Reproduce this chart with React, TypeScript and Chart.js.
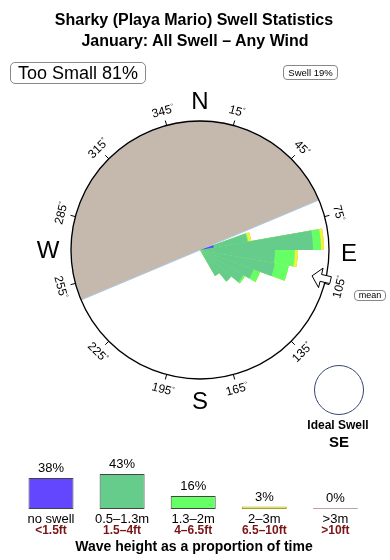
import React, { useEffect, useRef } from "react";
import { Chart, registerables } from "chart.js";

Chart.register(...registerables);

// ---------------- Data ----------------
// swell rose: 10° direction bins (start bearing) that hold swell
const binStarts = [70, 80, 90, 100, 110, 120, 130, 140];
// radial length of each height class per bin (scale max = 100)
const noSwellRose = [10.9, 0, 0, 0, 0, 0, 0, 0];
const m05to13Rose = [26.4, 87.6, 58.1, 58.9, 44.2, 38.8, 31.8, 23.3];
const m13to2Rose = [0.8, 6.2, 15.5, 10.9, 5.4, 1.5, 0, 0];
const m2to3Rose = [2.3, 2.3, 2.3, 0, 0, 0, 0, 0];
const over3Rose = [0, 0, 0, 0, 0, 0, 0, 0];

// land shadow sector (bearings, clockwise from -> to)
const landFromBearing = 247.2;
const landToBearing = 67.2;

const meanDirection = 103;
const tooSmallPct = 81;
const swellPct = 19;
const idealSwell = "SE";

const degreeTicks = [15, 45, 75, 105, 135, 165, 195, 225, 255, 285, 315, 345];

// legend (wave height as a proportion of time)
const legendMetric = ["no swell", "0.5\u20131.3m", "1.3\u20132m", "2\u20133m", ">3m"];
const legendFeet = ["<1.5ft", "1.5\u20134ft", "4\u20136.5ft", "6.5\u201310ft", ">10ft"];
const legendPct = [38, 43, 16, 3, 0];

// ---------------- Styles ----------------
const FONT = '"Liberation Sans", Arial, Helvetica, sans-serif';
const roseColors = ["#6347ff", "#66cc8c", "#66ff66", "#f2f236", "#d8a0a0"];
const legendBorders = ["#444", "#444", "#444", "#a3a32c", "#c0a0a0"];
const roseLabels = legendMetric;
const ROSE_PAD = { left: 71, top: 121, right: 61, bottom: 41 };
const CX = 200;
const CY = 250;
const LABEL_R = 144;

const directionBins = Array.from({ length: 36 }, (_, i) => i * 10);
const expand = (vals: number[]) =>
  directionBins.map((b) => {
    const i = binStarts.indexOf(b);
    return i >= 0 ? vals[i] : 0;
  });

function Txt(props: {
  x: number;
  y: number;
  size: number;
  bold?: boolean;
  color?: string;
  rotate?: number;
  children: React.ReactNode;
}) {
  const { x, y, size, bold, color, rotate, children } = props;
  return (
    <div
      style={{
        position: "absolute",
        left: x,
        top: y,
        transform: `translate(-50%,-50%)${rotate ? ` rotate(${rotate}deg)` : ""}`,
        fontSize: size,
        fontWeight: bold ? "bold" : "normal",
        color: color || "#000",
        lineHeight: 1,
        whiteSpace: "nowrap",
      }}
    >
      {children}
    </div>
  );
}

export default function App() {
  const backRef = useRef<HTMLCanvasElement>(null);
  const frontRef = useRef<HTMLCanvasElement>(null);
  const barRef = useRef<HTMLCanvasElement>(null);

  useEffect(() => {
    const baseScale = (startAngle: number, grid: any) => ({
      r: {
        type: "radialLinear",
        min: 0,
        max: 100,
        startAngle,
        ticks: { display: false, stepSize: 100 },
        pointLabels: { display: false },
        angleLines: { display: false },
        grid,
      },
    });
    const common = {
      responsive: false,
      animation: false,
      events: [],
      layout: { padding: ROSE_PAD },
      plugins: { legend: { display: false }, tooltip: { enabled: false } },
    };

    const landSpan = (landToBearing - landFromBearing + 360) % 360;
    const back = new Chart(backRef.current!, {
      type: "polarArea",
      data: {
        labels: ["land", "open"],
        datasets: [
          {
            data: [100, 0],
            backgroundColor: ["#c5b9ad", "rgba(0,0,0,0)"],
            borderColor: "#a9c9e6",
            borderWidth: [1, 0],
            angle: (c: any) => (c.dataIndex === 0 ? landSpan : 360 - landSpan),
          } as any,
        ],
      },
      options: {
        ...common,
        scales: baseScale(landFromBearing, { display: false }),
      } as any,
    });

    // stacked (cumulative) rose
    const classes = [noSwellRose, m05to13Rose, m13to2Rose, m2to3Rose, over3Rose].map(expand);
    const cum: number[][] = [];
    classes.forEach((vals, k) => {
      cum.push(vals.map((v, i) => v + (k > 0 ? cum[k - 1][i] : 0)));
    });

    const decor = {
      id: "roseDecor",
      afterDraw(chart: any) {
        const s = chart.scales.r;
        const cx = s.xCenter;
        const cy = s.yCenter;
        const R = s.drawingArea;
        const ctx = chart.ctx;
        ctx.save();
        ctx.strokeStyle = "#000";
        ctx.lineWidth = 1;
        degreeTicks.forEach((d) => {
          const a = (d * Math.PI) / 180;
          const ux = Math.sin(a);
          const uy = -Math.cos(a);
          ctx.beginPath();
          ctx.moveTo(cx + ux * R, cy + uy * R);
          ctx.lineTo(cx + ux * (R + 5), cy + uy * (R + 5));
          ctx.stroke();
        });
        // mean direction arrow (points to centre)
        const a = (meanDirection * Math.PI) / 180;
        const ux = Math.sin(a);
        const uy = -Math.cos(a);
        const px = -uy;
        const py = ux;
        const pt = (r: number, w: number) => [cx + ux * r + px * w, cy + uy * r + py * w];
        const pts = [
          pt(R - 14, 0),
          pt(R - 5, 10),
          pt(R - 5, 3.5),
          pt(R + 5, 3.5),
          pt(R + 5, -3.5),
          pt(R - 5, -3.5),
          pt(R - 5, -10),
        ];
        ctx.beginPath();
        pts.forEach((p, i) => (i === 0 ? ctx.moveTo(p[0], p[1]) : ctx.lineTo(p[0], p[1])));
        ctx.closePath();
        ctx.fillStyle = "#fff";
        ctx.fill();
        ctx.stroke();
        ctx.restore();
      },
    };

    const front = new Chart(frontRef.current!, {
      type: "polarArea",
      data: {
        labels: directionBins.map((b) => `${b}°`),
        datasets: cum.map((vals, k) => ({
          label: roseLabels[k],
          data: vals,
          backgroundColor: roseColors[k],
          borderWidth: 0,
        })),
      },
      options: {
        ...common,
        scales: baseScale(0, { display: true, circular: true, color: "#000", lineWidth: 1.3, z: 1 }),
      } as any,
      plugins: [decor],
    });

    const pctLabels = {
      id: "pctLabels",
      afterDatasetsDraw(chart: any) {
        const ctx = chart.ctx;
        const meta = chart.getDatasetMeta(0);
        ctx.save();
        ctx.font = `13px ${FONT}`;
        ctx.fillStyle = "#000";
        ctx.textAlign = "center";
        ctx.textBaseline = "middle";
        meta.data.forEach((el: any, i: number) => {
          ctx.fillText(`${legendPct[i]}%`, el.x, el.y - 9.5);
        });
        ctx.restore();
      },
    };

    const bars = new Chart(barRef.current!, {
      type: "bar",
      data: {
        labels: legendMetric,
        datasets: [
          {
            data: legendPct,
            backgroundColor: roseColors,
            borderColor: legendBorders,
            borderWidth: 1,
            borderSkipped: false,
            categoryPercentage: 1,
            barPercentage: 0.633,
            minBarLength: 1,
          } as any,
        ],
      },
      options: {
        responsive: false,
        animation: false,
        events: [],
        layout: { padding: { left: 15.45, right: 19.05, top: 16.25, bottom: 3 } },
        plugins: { legend: { display: false }, tooltip: { enabled: false } },
        scales: {
          x: { display: false },
          y: { display: false, min: 0, max: 50 },
        },
      } as any,
      plugins: [pctLabels],
    });

    return () => {
      back.destroy();
      front.destroy();
      bars.destroy();
    };
  }, []);

  const legendX = (i: number) => 51 + 71.1 * i;

  return (
    <div
      style={{
        position: "absolute",
        left: 0,
        top: 0,
        width: 390,
        height: 560,
        background: "#fff",
        fontFamily: FONT,
        color: "#000",
        overflow: "hidden",
      }}
    >
      <canvas ref={backRef} width={390} height={420} style={{ position: "absolute", left: 0, top: 0 }} />
      <canvas ref={frontRef} width={390} height={420} style={{ position: "absolute", left: 0, top: 0 }} />
      <canvas ref={barRef} width={390} height={60} style={{ position: "absolute", left: 0, top: 452 }} />

      <Txt x={194} y={20} size={16} bold>
        Sharky (Playa Mario) Swell Statistics
      </Txt>
      <Txt x={195} y={41} size={16} bold>
        January: All Swell – Any Wind
      </Txt>

      <div
        style={{
          position: "absolute",
          left: 10,
          top: 62,
          width: 136,
          height: 22,
          boxSizing: "border-box",
          border: "1px solid #888",
          borderRadius: 5,
          display: "flex",
          alignItems: "center",
          justifyContent: "center",
          fontSize: 18,
          lineHeight: 1,
        }}
      >
        Too Small {tooSmallPct}%
      </div>
      <div
        style={{
          position: "absolute",
          left: 283,
          top: 65,
          width: 55,
          height: 15,
          boxSizing: "border-box",
          border: "1px solid #888",
          borderRadius: 4,
          display: "flex",
          alignItems: "center",
          justifyContent: "center",
          fontSize: 9.5,
          lineHeight: 1,
        }}
      >
        Swell {swellPct}%
      </div>

      <Txt x={200} y={100.5} size={24}>N</Txt>
      <Txt x={349} y={253} size={24}>E</Txt>
      <Txt x={200} y={400.5} size={24}>S</Txt>
      <Txt x={48} y={249.5} size={24}>W</Txt>

      {degreeTicks.map((d) => {
        const a = (d * Math.PI) / 180;
        const x = CX + LABEL_R * Math.sin(a);
        const y = CY - LABEL_R * Math.cos(a);
        const rot = d > 90 && d < 270 ? d - 180 : d > 270 ? d - 360 : d;
        return (
          <Txt key={d} x={x} y={y} size={12} rotate={rot}>
            {d}
            <span style={{ fontSize: 7, verticalAlign: 4 }}>°</span>
          </Txt>
        );
      })}

      <div
        style={{
          position: "absolute",
          left: 354,
          top: 290,
          width: 32,
          height: 11,
          boxSizing: "border-box",
          border: "1px solid #888",
          borderRadius: 4,
          display: "flex",
          alignItems: "center",
          justifyContent: "center",
          fontSize: 9,
          lineHeight: 1,
        }}
      >
        mean
      </div>

      <div
        style={{
          position: "absolute",
          left: 314,
          top: 365,
          width: 50,
          height: 50,
          boxSizing: "border-box",
          border: "1px solid #34476a",
          borderRadius: "50%",
        }}
      />
      <Txt x={338} y={425} size={12} bold>Ideal Swell</Txt>
      <Txt x={339} y={441} size={15} bold>{idealSwell}</Txt>

      {legendMetric.map((m, i) => (
        <Txt key={m} x={legendX(i)} y={518} size={13}>{m}</Txt>
      ))}
      {legendFeet.map((f, i) => (
        <Txt key={f} x={legendX(i)} y={529.5} size={12} bold color="#7a1414">{f}</Txt>
      ))}
      <Txt x={194} y={546} size={14} bold>Wave height as a proportion of time</Txt>
    </div>
  );
}
